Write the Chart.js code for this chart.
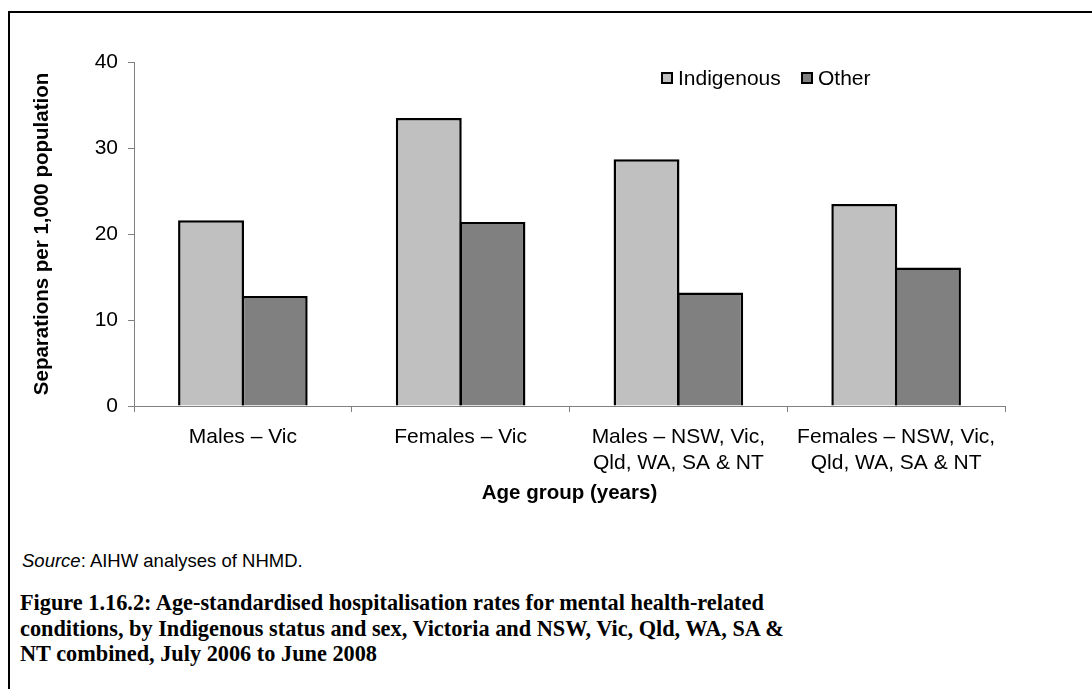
<!DOCTYPE html>
<html>
<head>
<meta charset="utf-8">
<script src="https://cdn.jsdelivr.net/npm/chart.js@4/dist/chart.umd.min.js"></script>
<style>
  html, body { margin: 0; padding: 0; background: #fff; }
  body { width: 1092px; height: 689px; position: relative; overflow: hidden; }
  #frame {
    position: absolute; left: 8px; top: 11px; width: 1200px; height: 800px;
    border-left: 2px solid #000; border-top: 2px solid #000;
  }
  #chartWrap { position: absolute; left: 0; top: 0; width: 1092px; height: 525px; }
  #source {
    position: absolute; left: 22px; top: 550px;
    font: 18.5px "Liberation Sans", Arial, sans-serif; color: #000;
  }
  #caption {
    position: absolute; left: 20px; top: 590px;
    font: bold 22.3px "Liberation Serif", serif; line-height: 25.5px; color: #000;
    white-space: nowrap;
  }
</style>
</head>
<body>
<div id="frame"></div>
<div id="chartWrap"><canvas id="chart"></canvas></div>
<div id="source"><i>Source</i>: AIHW analyses of NHMD.</div>
<div id="caption">Figure 1.16.2: Age-standardised hospitalisation rates for mental health-related<br>conditions, by Indigenous status and sex, Victoria and NSW, Vic, Qld, WA, SA &amp;<br>NT combined, July 2006 to June 2008</div>

<script>
// data
const categories = [
  ["Males – Vic"],
  ["Females – Vic"],
  ["Males – NSW, Vic,", "Qld, WA, SA & NT"],
  ["Females – NSW, Vic,", "Qld, WA, SA & NT"],
];
const indigenous = [21.6, 33.5, 28.7, 23.5];
const other = [12.8, 21.4, 13.2, 16.1];
const yTicks = [0, 10, 20, 30, 40];

const FONT = "'Liberation Sans', Arial, sans-serif";

// small legend drawn on the canvas, sitting inside the plot area like the original
const insideLegend = {
  id: "insideLegend",
  afterDraw(chart) {
    const ctx = chart.ctx;
    const spots = [662, 802];
    ctx.save();
    ctx.font = "21px " + FONT;
    ctx.textBaseline = "middle";
    chart.data.datasets.forEach((ds, i) => {
      const x = spots[i];
      const y = 78;
      ctx.fillStyle = ds.backgroundColor;
      ctx.fillRect(x, y - 5, 10, 10);
      ctx.lineWidth = 2;
      ctx.strokeStyle = "#000";
      ctx.strokeRect(x, y - 5, 10, 10);
      ctx.fillStyle = "#000";
      ctx.fillText(ds.label, x + 16, y + 1);
    });
    ctx.restore();
  },
};

const ctx = document.getElementById("chart").getContext("2d");
const chart = new Chart(ctx, {
  type: "bar",
  data: {
    labels: categories,
    datasets: [
      {
        label: "Indigenous",
        data: indigenous,
        backgroundColor: "#c0c0c0",
        borderColor: "#000",
        borderWidth: 2.5,
      },
      {
        label: "Other",
        data: other,
        backgroundColor: "#808080",
        borderColor: "#000",
        borderWidth: 2.5,
      },
    ],
  },
  options: {
    responsive: true,
    maintainAspectRatio: false,
    animation: false,
    categoryPercentage: 0.585,
    barPercentage: 1.035, // neighbouring bars share one edge
    layout: {
      padding: { left: 20, right: 87, top: 62, bottom: 0 },
    },
    plugins: {
      legend: { display: false },
      tooltip: { enabled: false },
    },
    scales: {
      x: {
        grid: {
          drawOnChartArea: false,
          tickLength: 6,
          color: "#808080",
        },
        border: { color: "#808080", width: 1 },
        ticks: {
          color: "#000",
          font: { family: FONT, size: 21 },
          padding: 13,
          maxRotation: 0,
          autoSkip: false,
        },
        title: {
          display: true,
          text: "Age group (years)",
          color: "#000",
          font: { family: FONT, size: 20.5, weight: "bold" },
          padding: { top: 0, bottom: 19 },
        },
        afterFit(scale) {
          scale.height = 119;
        },
      },
      y: {
        min: 0,
        max: 40,
        afterBuildTicks(scale) {
          scale.ticks = yTicks.map((v) => ({ value: v }));
        },
        grid: {
          drawOnChartArea: false,
          tickLength: 6,
          color: "#808080",
        },
        border: { color: "#808080", width: 1 },
        ticks: {
          color: "#000",
          font: { family: FONT, size: 21 },
          padding: 10,
        },
        title: {
          display: true,
          text: "Separations per 1,000 population",
          color: "#000",
          font: { family: FONT, size: 20.5, weight: "bold" },
          padding: { top: 10, bottom: 0 },
        },
        afterFit(scale) {
          scale.width = 114;
        },
      },
    },
  },
  plugins: [insideLegend],
});
</script>
</body>
</html>
